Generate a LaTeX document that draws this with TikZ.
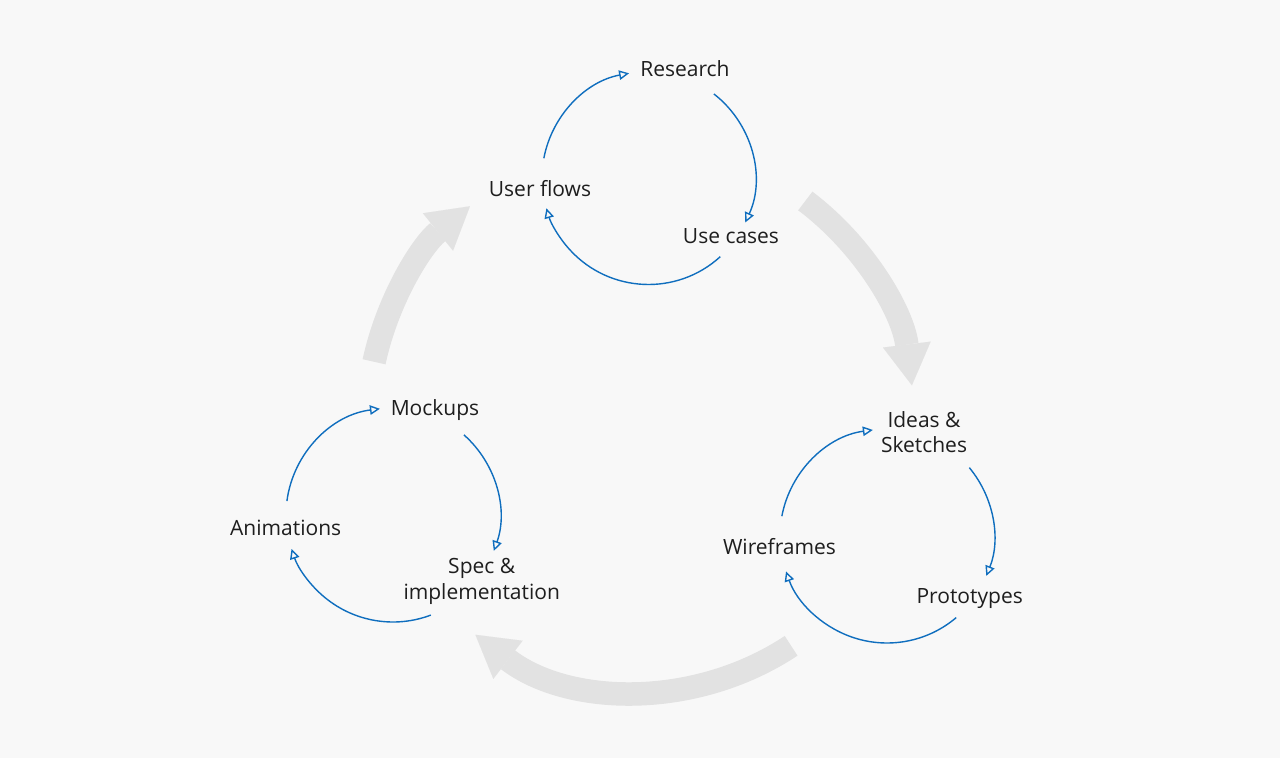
\documentclass[tikz,border=0pt]{standalone}
\usepackage{fontspec}
\setmainfont{Open Sans}
\usetikzlibrary{arrows.meta}
\definecolor{bgc}{HTML}{F8F8F8}
\definecolor{bandc}{HTML}{E2E2E2}
\definecolor{bluec}{HTML}{0F6EBE}
\definecolor{txtc}{HTML}{1E1E1E}
\begin{document}
\begin{tikzpicture}[x=1pt,y=-1pt,
  lbl/.style={font=\fontsize{21}{25.4}\selectfont, text=txtc, inner sep=0pt, anchor=base, align=center},
  band/.style={draw=bandc, line width=23.5pt, -{Triangle[width=48pt,length=41pt,line width=0.01pt]}},
  cyc/.style={draw=bluec, line width=1.4pt, -{Triangle[open,length=10pt,width=9.5pt]}}]
\fill[bgc] (0,0) rectangle (1280,758);
\useasboundingbox (0,0) rectangle (1280,758);
\coordinate (bigC) at (641,419);
\coordinate (topC) at (648.5,178);
\coordinate (rightC) at (887,536);
\coordinate (leftC) at (393,515);
% big cycle
\draw[band] ([shift={(192.1:273)}]bigC) arc[start angle=192.1,end angle=231.2,radius=273];
\draw[band] ([shift={(307:273)}]bigC) arc[start angle=307,end angle=352.9,radius=273];
\draw[band] ([shift={(56.5:272)}]bigC) arc[start angle=56.5,end angle=127.5,radius=272];
% top cycle
\draw[cyc] ([shift={(190.7:106.5)}]topC) arc[start angle=190.7,end angle=259.5,radius=106.5];
\draw[cyc] ([shift={(307.9:106.5)}]topC) arc[start angle=307.9,end angle=384.7,radius=106.5];
\draw[cyc] ([shift={(47.6:106.5)}]topC) arc[start angle=47.6,end angle=163.5,radius=106.5];
% right cycle
\draw[cyc] ([shift={(190.7:107)}]rightC) arc[start angle=190.7,end angle=262.4,radius=107];
\draw[cyc] ([shift={(320.3:107)}]rightC) arc[start angle=320.3,end angle=381.9,radius=107];
\draw[cyc] ([shift={(49.7:107)}]rightC) arc[start angle=49.7,end angle=160.7,radius=107];
% left cycle
\draw[cyc] ([shift={(187.5:107)}]leftC) arc[start angle=187.5,end angle=263,radius=107];
\draw[cyc] ([shift={(311.5:107)}]leftC) arc[start angle=311.5,end angle=379.6,radius=107];
\draw[cyc] ([shift={(69.3:107)}]leftC) arc[start angle=69.3,end angle=161.5,radius=107];
% labels
\node[lbl] (research) at (685,76.7) {Research};
\node[lbl] (userflows) at (540,196) {User flows};
\node[lbl] (usecases) at (731,243.3) {Use cases};
\node[lbl] (ideas) at (924,452.7) {Ideas \&\\Sketches};
\node[lbl] (wireframes) at (779.5,554.3) {Wireframes};
\node[lbl] (prototypes) at (969.7,603.3) {Prototypes};
\node[lbl] (mockups) at (435,415) {Mockups};
\node[lbl] (animations) at (285.7,535) {Animations};
\node[lbl] (spec) at (481.7,599.3) {Spec \&\\implementation};
\end{tikzpicture}
\end{document}
